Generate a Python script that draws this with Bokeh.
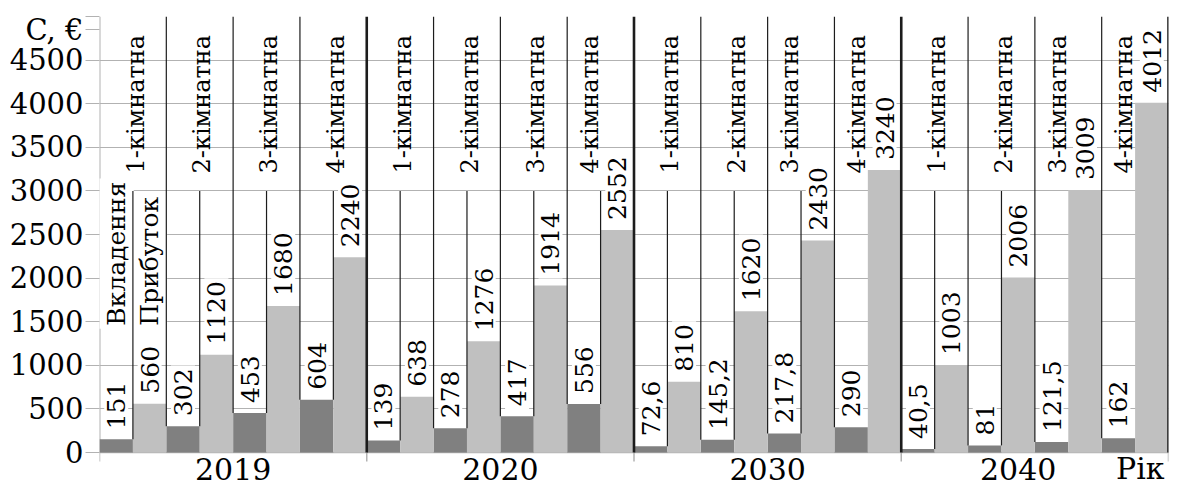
import numpy as np
from bokeh.plotting import figure
from bokeh.models import Range1d, FixedTicker
from bokeh.core.properties import value
from bokeh.embed import file_html
from bokeh.resources import INLINE

# ---------------- data ----------------
years = ["2019", "2020", "2030", "2040"]
rooms = ["1-кімнатна", "2-кімнатна", "3-кімнатна", "4-кімнатна"]
series_names = ["Вкладення", "Прибуток"]
# one value per (year, room) in reading order
invest = [151, 302, 453, 604,
          139, 278, 417, 556,
          72.6, 145.2, 217.8, 290,
          40.5, 81, 121.5, 162]
profit = [560, 1120, 1680, 2240,
          638, 1276, 1914, 2552,
          810, 1620, 2430, 3240,
          1003, 2006, 3009, 4012]
y_ticks = [0, 500, 1000, 1500, 2000, 2500, 3000, 3500, 4000, 4500]
y_title = "C, €"
x_title = "Рік"

# ---------------- style ----------------
FONT = "DejaVu Serif"
DARK = "#808080"
LIGHT = "#c0c0c0"
GRID = "#b2b2b2"
INK = "#1c1c1c"
Y_MAX = 5000
LABEL_TOP = 3000      # where the inner label-box edges start
ROOM_LABEL_Y = 3200   # where room-type labels start
SERIES_LABEL_Y = 1420

W, H = 1170, 486
FRAME_TOP, ZERO_PX = 16, 452          # pixel rows of 5000 and of 0
UNITS_PER_PX = Y_MAX / (ZERO_PX - FRAME_TOP)
Y_MIN = -(H - ZERO_PX) * UNITS_PER_PX  # room below the axis for year labels
TICK_LEN = 9 * UNITS_PER_PX

n_rooms = len(rooms)
n_slots = len(years) * n_rooms
slots = np.arange(n_slots)
x_dark = slots + 0.25
x_light = slots + 0.75
inv = np.array(invest, dtype=float)
pro = np.array(profit, dtype=float)


def fmt(v):
    return f"{v:g}".replace(".", ",")


p = figure(width=W, height=H,
           x_range=Range1d(0, n_slots), y_range=Range1d(Y_MIN, Y_MAX),
           output_backend="svg", toolbar_location=None,
           min_border_left=99, min_border_right=2,
           min_border_top=FRAME_TOP, min_border_bottom=0)
p.outline_line_color = None
p.background_fill_color = "white"
p.border_fill_color = "white"

# y axis (its line is drawn as a segment so it stops at the x-axis tick)
title_pos = Y_MAX - 13 * UNITS_PER_PX
yt = y_ticks + [Y_MAX, title_pos]
p.yaxis.ticker = FixedTicker(ticks=yt)
p.yaxis.major_label_overrides = {Y_MAX: "", title_pos: y_title}
p.yaxis.major_label_text_font = FONT
p.yaxis.major_label_text_font_size = "29px"
p.yaxis.major_label_text_color = "black"
p.yaxis.major_tick_out = 14
p.yaxis.major_tick_in = 0
p.yaxis.major_label_standoff = 2
p.yaxis.minor_tick_line_color = None
p.yaxis.major_tick_line_color = GRID
p.yaxis.axis_line_color = None
p.ygrid.ticker = FixedTicker(ticks=y_ticks + [Y_MAX])
p.ygrid.grid_line_color = GRID
p.xgrid.visible = False
p.xaxis.visible = False

# x-axis line and year-boundary ticks
bounds = np.arange(0, n_slots + 1, n_rooms, dtype=float)
p.segment(x0=[0], y0=[0], x1=[n_slots], y1=[0], line_color=GRID, line_width=1.5)
p.segment(x0=bounds, y0=np.full(len(bounds), -TICK_LEN), x1=bounds,
          y1=np.zeros(len(bounds)), line_color=GRID, line_width=1.5)
p.segment(x0=[0], y0=[0], x1=[0], y1=[Y_MAX], line_color=GRID, line_width=2)

# bars
p.vbar(x=x_dark, top=inv, width=0.5, fill_color=DARK, line_color=None)
p.vbar(x=x_light, top=pro, width=0.5, fill_color=LIGHT, line_color=None)

# value labels (white boxes)
common = dict(angle=np.pi / 2, text_align="left", text_baseline="middle",
              text_font=value(FONT), text_font_size="25px", text_color="black",
              background_fill_color="white", padding=3)
p.text(x=x_dark, y=inv, text=[fmt(v) for v in invest], y_offset=-7, **common)
p.text(x=x_light, y=pro, text=[fmt(v) for v in profit], y_offset=-7, **common)

# series names above first pair
p.text(x=[x_dark[0], x_light[0]], y=[SERIES_LABEL_Y] * 2, text=series_names, **common)

# box edges
not_bound = (slots % n_rooms) != 0
p.segment(x0=slots[not_bound], y0=inv[not_bound], x1=slots[not_bound],
          y1=np.full(not_bound.sum(), Y_MAX), line_color=INK, line_width=1.2)
low = pro < LABEL_TOP
p.segment(x0=slots[low] + 0.5, y0=inv[low], x1=slots[low] + 0.5,
          y1=np.full(low.sum(), LABEL_TOP), line_color=INK, line_width=1.2)
yb = bounds[1:]
p.segment(x0=yb, y0=np.zeros(len(yb)), x1=yb, y1=np.full(len(yb), Y_MAX),
          line_color=INK, line_width=2.6)

# room-type labels
room_text = [rooms[i % n_rooms] for i in slots]
room_x = slots + 0.5 + np.where(pro > 2300, -0.16, 0.04)
p.text(x=room_x, y=np.full(n_slots, ROOM_LABEL_Y), text=room_text,
       angle=np.pi / 2, text_align="left", text_baseline="middle",
       text_font=value(FONT), text_font_size="24px", text_color="black")

# year labels and axis title under the axis
year_x = np.arange(len(years)) * n_rooms + n_rooms / 2
year_x[-1] -= 0.25
p.text(x=year_x, y=np.zeros(len(years)), text=years, y_offset=16,
       text_align="center", text_baseline="middle",
       text_font=value(FONT), text_font_size="30px", text_color="black")
p.text(x=[n_slots], y=[0], text=[x_title], x_offset=-4, y_offset=16,
       text_align="right", text_baseline="middle",
       text_font=value(FONT), text_font_size="30px", text_color="black")

open("out.html", "w").write(file_html(p, INLINE))
